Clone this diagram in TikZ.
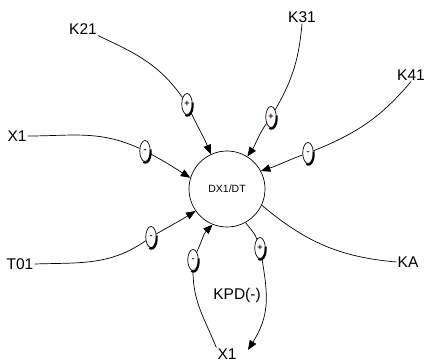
\documentclass[tikz,border=0pt]{standalone}
\usepackage{fontspec}
\setmainfont{Liberation Sans}
\usetikzlibrary{shapes.geometric,arrows.meta}
\definecolor{signred}{RGB}{70,10,10}
\begin{document}
\begin{tikzpicture}[x=1pt,y=1pt,
  lbl/.style={font=\fontsize{15.5}{15.5}\selectfont, inner sep=1pt},
  signbox/.style={ellipse, draw, line width=0.7pt, fill=white, minimum width=10.5, minimum height=21, inner sep=0pt, font=\fontsize{9}{9}\selectfont\bfseries, text=signred},
  shade/.style={line width=2pt},
  wire/.style={line width=0.7pt},
  arr/.style={wire, -{Triangle[length=9.5pt,width=7.5pt]}},
]
\useasboundingbox (0,0) rectangle (425,-362);
% labels
\node[lbl] (K21) at (83,-29) {K21};
\node[lbl] (K31) at (302,-17) {K31};
\node[lbl] (K41) at (411,-75) {K41};
\node[lbl] (X1L) at (17,-136) {X1};
\node[lbl] (T01) at (20,-264) {T01};
\node[lbl] (KA) at (408,-262) {KA};
\node[lbl] (X1B) at (227,-354) {X1};
\node[lbl] (KPD) at (237,-295) {KPD(-)};
\node[circle, draw, line width=0.7pt, minimum size=76, inner sep=0pt, font=\fontsize{10.5}{10.5}\selectfont] (c) at (227,-189) {DX1/DT};
% signs
\node[signbox] (s1) at (187,-104) {+};
\node[signbox] (s2) at (271,-117) {+};
\node[signbox] (s3) at (308,-153) {-};
\node[signbox] (s4) at (145,-151) {-};
\node[signbox] (s5) at (151,-237) {-};
\node[signbox] (s6) at (193,-260) {-};
\node[signbox] (s7) at (260,-248) {+};
\foreach \s in {s1,s2,s3,s4,s5,s6,s7}
  \draw[shade] (\s.15) arc[start angle=15,end angle=-115,x radius=5.25,y radius=10.5];
\coordinate (tipB) at (248,-350);
% connectors
\draw[wire] (K21.south east) to[out=-25,in=125] (s1);
\draw[arr] (s1) to[out=-65,in=112] (c.115);
\draw[wire] (K31.south) to[out=-95,in=60] (s2);
\draw[arr] (s2) to[out=-125,in=55] (c.58);
\draw[wire] (K41.south) to[out=-130,in=22] (s3);
\draw[arr] (s3) to[out=-160,in=18] (c.28);
\draw[wire] (X1L.east) to[out=0,in=155] (s4);
\draw[arr] (s4) to[out=-28,in=148] (c.163);
\draw[wire] (T01.east) to[out=2,in=-145] (s5);
\draw[arr] (s5) to[out=30,in=-148] (c.215);
\draw[wire] (c.-25) to[out=-40,in=175] (KA.west);
\draw[wire] (X1B.north west) to[out=112,in=-90] (s6);
\draw[arr] (s6) to[out=65,in=-135] (c.248);
\draw[wire] (c.-61) to[out=-55,in=110] (s7);
\draw[arr] (s7) to[out=-80,in=58,looseness=1.1] (tipB);
\end{tikzpicture}
\end{document}
